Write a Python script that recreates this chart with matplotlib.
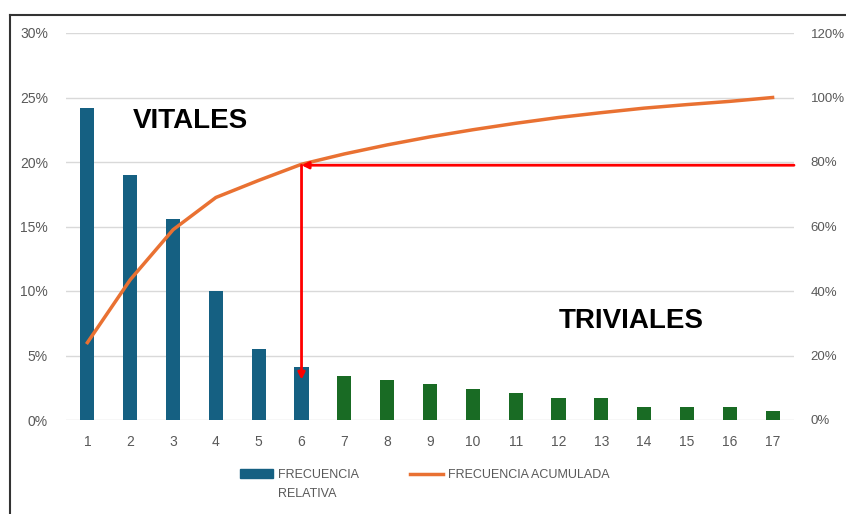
import numpy as np
import matplotlib.pyplot as plt
from matplotlib.lines import Line2D
from matplotlib.patches import Patch
from matplotlib.ticker import PercentFormatter

categorias = list(range(1, 18))
frecuencia_relativa = [24.2, 19.0, 15.6, 10.0, 5.5, 4.1, 3.4, 3.1, 2.8, 2.4,
                       2.1, 1.7, 1.7, 1.0, 1.0, 1.0, 0.7]
frecuencia_acumulada = [24.0, 43.5, 59.0, 69.0, 74.3, 79.3, 82.5, 85.3, 87.8,
                        90.0, 92.0, 93.8, 95.3, 96.7, 97.8, 98.8, 100.0]
n_vitales = 6
corte = 79.0

azul = "#156082"
verde = "#196B24"
naranja = "#E97132"
gris = "#595959"

plt.rcParams['font.family'] = ['Liberation Sans', 'DejaVu Sans']

fig = plt.figure(figsize=(8.46, 5.14), dpi=100)
ax = fig.add_axes([66 / 846, 1 - 420 / 514, (794 - 66) / 846, (420 - 33) / 514])
ax2 = ax.twinx()

colores = [azul if i < n_vitales else verde for i in range(len(categorias))]
ax.bar(categorias, frecuencia_relativa, width=0.33, color=colores, zorder=2)
ax2.plot(categorias, frecuencia_acumulada, color=naranja, lw=2.5, zorder=3)

ax.set_xlim(0.5, 17.5)
ax.set_ylim(0, 30)
ax2.set_ylim(0, 120)
ax.set_yticks(np.arange(0, 31, 5))
ax2.set_yticks(np.arange(0, 121, 20))
ax.set_xticks(categorias)
ax.yaxis.set_major_formatter(PercentFormatter(decimals=0))
ax2.yaxis.set_major_formatter(PercentFormatter(decimals=0))
ax.grid(axis='y', color='#d9d9d9', lw=1, zorder=0)
ax.set_axisbelow(True)
for a in (ax, ax2):
    for s in a.spines.values():
        s.set_visible(False)
    a.tick_params(length=0, labelsize=10, colors=gris)
ax.tick_params(axis='y', pad=13)
ax2.tick_params(axis='y', pad=12, labelsize=9.5)
ax.tick_params(axis='x', pad=11)

# flechas del 80%
flecha = dict(arrowstyle='-|>', color='red', lw=2, mutation_scale=10,
              shrinkA=0, shrinkB=0)
ax2.annotate('', xy=(n_vitales, corte), xytext=(17.5, corte), arrowprops=flecha, zorder=4)
ax2.annotate('', xy=(n_vitales, 12.5), xytext=(n_vitales, corte), arrowprops=flecha, zorder=4)

ax2.text(3.4, 92.6, 'VITALES', fontsize=20, fontweight='bold', ha='center', va='center')
ax2.text(13.7, 30.8, 'TRIVIALES', fontsize=20, fontweight='bold', ha='center', va='center')

handles = [Patch(color=azul), Line2D([], [], color=naranja, lw=2.5)]
leg = fig.legend(handles, ['FRECUENCIA', 'FRECUENCIA ACUMULADA'],
                 loc='center left', bbox_to_anchor=(229 / 846, 1 - 475 / 514), ncol=2,
                 frameon=False, fontsize=9, labelcolor=gris, handlelength=2.6,
                 handletextpad=0.4, columnspacing=4.1)
fig.text(278 / 846, 1 - 494 / 514, 'RELATIVA', fontsize=9, color=gris, va='center')

# marco
fig.add_artist(Line2D([10 / 846, 1], [1 - 15 / 514, 1 - 15 / 514], color='#333333', lw=1.5))
fig.add_artist(Line2D([10 / 846, 10 / 846], [0, 1 - 15 / 514], color='#333333', lw=1.5))

fig.savefig('out.png', dpi=100)
